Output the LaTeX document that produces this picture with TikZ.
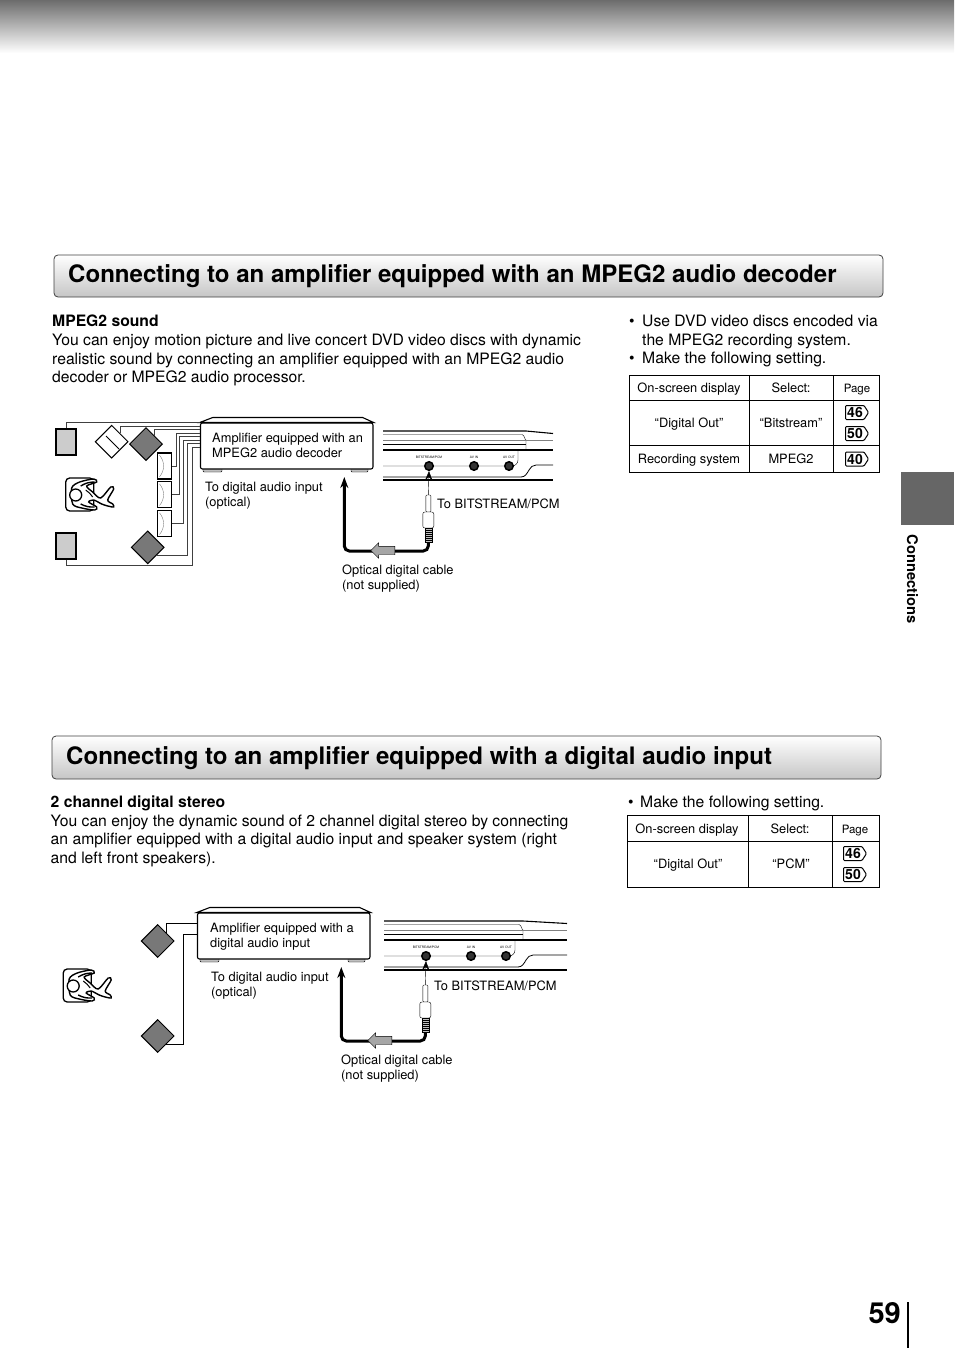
\documentclass[tikz,border=0pt]{standalone}
\usepackage{fontspec}
\setmainfont{TeX Gyre Heros}
\usepackage{tikz}
\usetikzlibrary{arrows.meta,calc,shapes.geometric,shapes.arrows}

\definecolor{wiregray}{gray}{0.25}
\definecolor{spkgray}{gray}{0.47}
\definecolor{tabgray}{gray}{0.40}

% amplifier body with feet and sloped lid
\newcommand{\amplifier}[1]{
	\draw[thin, fill=gray!50, rounded corners=1pt] (203,467) rectangle (222,472);
	\draw[thin, fill=gray!50, rounded corners=1pt] (351,467) rectangle (368,472);
	\node[ampbody] (#1) at (286.7,446) {};
	\draw[line width=1.1pt, fill=white] (#1.north west) -- ++(13,-5) -- ($(#1.north east)+(-11,-5)$) -- (#1.north east) -- cycle;
}
% side panel of the player, from x=#2 to x=#3
\newcommand{\playerpanel}[3]{
	\draw[line width=1.1pt] (#2,431) -- (526,431) -- (#3,433.5);
	\draw (#2,434.5) -- (522,434.5) to[out=0,in=-100] (526,440) -- (526,450);
	\draw[gray] (#2,440) -- (#3,440);
	\draw[line width=0.8pt] (#2,444) -- (526,444);
	\draw[line width=1.1pt] (#2,450) -- (#3,450);
	\draw (#2,466) -- (512,466) to[out=0,in=-90] (518,460) -- (518,450);
	\draw[line width=0.8pt] (#2,477) -- (521,477) to[out=0,in=-120] (529,470) to[out=60,in=180] (536,465) -- (#3,465);
	\draw[line width=1.1pt] (#2,480) -- (#3,480);
	\node[jackhole] (#1a) at (429,466) {};
	\node[jackhole] (#1b) at (474,466) {};
	\node[jackhole] (#1c) at (509,466) {};
	\node[tinylabel] (#1la) at (429,457.5) {BITSTREAM/PCM};
	\node[tinylabel] (#1lb) at (474,457.5) {AV IN};
	\node[tinylabel] (#1lc) at (509,457.5) {AV OUT};
}
% plug, its cable to the amplifier and the direction arrow on it
\newcommand{\opticalcable}[1]{
	\node[plugtip] (#1tip) at (428.3,503.5) {};
	\node[plugbody] (#1body) at (428.3,520) {};
	\node[plugrelief] (#1relief) at (428.3,535) {};
	\foreach \reliefy in {530,532,534,536,538,540}{
		\draw (425,\reliefy) -- (431.6,\reliefy);
	}
	\coordinate (#1end) at (344.3,477);
	\draw[cable, -{Stealth[length=11pt,width=8pt]}] (#1relief.south) -- (428.3,551) -- (344.3,551) -- (#1end);
	\node[flowarrow] (#1flow) at (385,550.5) {};
	\draw[-{Stealth[length=9pt,width=7pt]}] (#1tip.north) -- (#1a.south);
}
% listener seen from above
\newcommand{\listener}[3]{
	\begin{scope}[shift={(#2,#3)}]
		\node[seat] (#1) at (14,16.5) {};
		\draw[line width=1.4pt, fill=white] plot[smooth cycle] coordinates {(6,10) (14,4) (28,1) (31,4) (21,8) (27,14) (35,20) (45,9) (48,11) (42,22) (47,26) (48,29) (42,28) (36,26) (28,22) (23,24) (31,29) (29,32) (16,30) (7,26)};
		\draw[line width=1.4pt] (15,8) to[bend left=15] (29,4);
		\draw[line width=1.4pt] (15,26) to[bend right=15] (29,29);
		\draw[line width=1pt] (20,12) to[bend left=10] (27,19);
		\node[head] (#1head) at (10,17) {};
	\end{scope}
}
% page reference tag
\newcommand{\pagetag}[4]{
	\draw[line width=1pt, rounded corners=1pt] (#2-11.5,#3-7) -- (#2+7,#3-7) -- (#2+11.5,#3) -- (#2+7,#3+7) -- (#2-11.5,#3+7) -- cycle;
	\node[tagtext] (#1) at (#2-2,#3) {#4};
}

\begin{document}
\begin{tikzpicture}[x=1pt, y=-1pt,
	bodytext/.style={anchor=north west, inner sep=0pt, align=left, font=\fontsize{15.7}{18.6}\selectfont},
	smalltext/.style={anchor=north west, inner sep=0pt, align=left, font=\fontsize{12.85}{15}\selectfont},
	celltext/.style={inner sep=0pt, text height=9.2pt, text depth=0.7pt, font=\fontsize{12.85}{15}\selectfont},
	titletext/.style={anchor=west, inner sep=0pt, font=\fontsize{24.05}{30}\bfseries\selectfont},
	titlebox/.style={draw=wiregray, line width=0.8pt, rounded corners=4pt, top color=white, bottom color=gray!45},
	tagtext/.style={inner sep=0pt, font=\fontsize{14}{15}\bfseries\selectfont},
	tinylabel/.style={inner sep=0pt, font=\fontsize{3.2}{4}\selectfont},
	ampbody/.style={draw, line width=1.1pt, fill=white, rounded corners=2pt, minimum width=172.5pt, minimum height=46pt, inner sep=0pt},
	jackhole/.style={circle, draw, line width=1.5pt, fill=gray!40!black, minimum size=8.5pt, inner sep=0pt},
	plugtip/.style={draw, fill=white, rounded corners=1pt, minimum width=5pt, minimum height=17pt, inner sep=0pt},
	plugbody/.style={draw, fill=white, rounded corners=2pt, minimum width=11pt, minimum height=16pt, inner sep=0pt},
	plugrelief/.style={draw, fill=gray!50, minimum width=7pt, minimum height=14pt, inner sep=0pt},
	cable/.style={line width=3pt, rounded corners=5pt},
	flowarrow/.style={single arrow, draw, fill=gray!70, shape border rotate=180, minimum height=24pt, text height=8pt, text width=0pt, single arrow head extend=3.5pt, single arrow head indent=0pt, inner sep=0pt},
	wire/.style={wiregray, line width=0.7pt},
	blackwire/.style={black, line width=0.7pt},
	frontspk/.style={diamond, shape aspect=1, draw, line width=1pt, fill=spkgray, minimum size=33pt, inner sep=0pt},
	boxspk/.style={rectangle, draw, line width=1.3pt, fill=gray!40, minimum width=20pt, minimum height=26pt, inner sep=0pt},
	centerspk/.style={rectangle, draw, line width=1.5pt, fill=white, minimum width=14pt, minimum height=26pt, inner sep=0pt},
	seat/.style={rectangle, draw, line width=1.3pt, rounded corners=4pt, minimum width=28pt, minimum height=33pt, inner sep=0pt},
	head/.style={circle, draw, line width=1.3pt, fill=white, minimum size=12pt, inner sep=0pt}]
	\useasboundingbox (0,0) rectangle (954,1348);

	% page furniture
	\shade[top color=gray!85!black, middle color=gray!75, bottom color=white] (0,0) rectangle (954,53);
	\fill[tabgray] (901,472) rectangle (954,525);
	\node[inner sep=0pt, rotate=-90, font=\fontsize{14.7}{18}\bfseries\selectfont] (tabname) at (912.5,579.5) {Connections};
	\node[anchor=east, inner sep=0pt, font=\fontsize{29}{32}\bfseries\selectfont] (pagenum) at (901,1313) {59};
	\draw[line width=2pt] (908,1302) -- (908,1348);

	% first section
	\draw[titlebox] (54,255) rectangle (883,297);
	\node[titletext] (title1) at (68,276) {Connecting to an amplifier equipped with an MPEG2 audio decoder};
	\node[bodytext] (intro1) at (52,315) {\textbf{MPEG2 sound}\\You can enjoy motion picture and live concert DVD video discs with dynamic\\realistic sound by connecting an amplifier equipped with an MPEG2 audio\\decoder or MPEG2 audio processor.};
	\node[bodytext] (bullet1) at (629,315) {\vphantom{T}•\\ \\•};
	\node[bodytext] (notes1) at (642,315) {Use DVD video discs encoded via\\the MPEG2 recording system.\\Make the following setting.};

	\draw[line width=0.8pt] (629,375) rectangle (879,472);
	\draw[line width=0.8pt] (629,400) -- (879,400) (629,445) -- (879,445) (749,375) -- (749,472) (833,375) -- (833,472);
	\node[celltext] (osd1) at (689,388) {On-screen display};
	\node[celltext] (sel1) at (791,388) {Select:};
	\node[celltext, font=\fontsize{11.5}{14}\selectfont] (page1) at (857,388) {Page};
	\node[celltext] (val1) at (689,423) {“Digital Out”};
	\node[celltext] (val2) at (791,423) {“Bitstream”};
	\node[celltext] (rec1) at (689,459) {Recording system};
	\node[celltext] (rec2) at (791,459) {MPEG2};
	\pagetag{tag46a}{857}{412.5}{46}
	\pagetag{tag50a}{857}{433.5}{50}
	\pagetag{tag40a}{857}{459}{40}

	\amplifier{amp1}
	\playerpanel{jack1}{383}{553}
	\opticalcable{jack1}
	\node[smalltext] (ampname1) at (212,432.5) {Amplifier equipped with an\\MPEG2 audio decoder};
	\node[smalltext] (input1) at (205,481.5) {To digital audio input\\(optical)};
	\node[smalltext] (to1) at (437,499) {To BITSTREAM/PCM};
	\node[smalltext] (opt1) at (342,565) {Optical digital cable\\(not supplied)};

	% speakers around the listener
	\node[boxspk] (rearL) at (66,442) {};
	\node[boxspk] (rearR) at (66,546) {};
	\node[frontspk, fill=white] (frontW) at (111.7,441.7) {};
	\draw[line width=0.8pt] (106,436) -- (119,449);
	\node[frontspk] (frontL) at (146,444) {};
	\node[frontspk] (frontR) at (147.7,547.3) {};
	\node[centerspk] (midA) at (164.3,466) {};
	\node[centerspk] (midB) at (164.3,494.7) {};
	\node[centerspk] (midC) at (164.3,523.7) {};
	\foreach \midname in {midA,midB,midC}{
		\draw[gray] ($(\midname.north west)+(3,3)$) to[bend left=40] ($(\midname.south west)+(3,-3)$);
	}
	\draw[wire] (rearL.north) |- (amp1.west |- 0,422.7);
	\draw[wire] (frontW.north east) |- (amp1.west |- 0,426.7);
	\draw[wire] (frontL.north east) |- (amp1.west |- 0,429.3);
	\draw[wire] (midA.east) -| (176,433.3) -- (amp1.west |- 0,433.3);
	\draw[wire] (midB.east) -| (179.3,436.7) -- (amp1.west |- 0,436.7);
	\draw[wire] (midC.east) -| (183.3,440) -- (amp1.west |- 0,440);
	\draw[wire] (frontR.south east) -| (187.7,443.3) -- (amp1.west |- 0,443.3);
	\draw[wire] (rearR.south) |- (192.3,565.7) -- (192.3,447.7) -- (amp1.west |- 0,447.7);
	\listener{seat1}{65.7}{478}

	% second section
	\draw[titlebox] (52,736) rectangle (881,779);
	\node[titletext] (title2) at (66,758) {Connecting to an amplifier equipped with a digital audio input};
	\node[bodytext] (intro2) at (50.5,795.5) {\textbf{2 channel digital stereo}\\You can enjoy the dynamic sound of 2 channel digital stereo by connecting\\an amplifier equipped with a digital audio input and speaker system (right\\and left front speakers).};
	\node[bodytext] (bullet2) at (628,795.5) {\vphantom{T}•};
	\node[bodytext] (notes2) at (640,795.5) {Make the following setting.};

	\draw[line width=0.8pt] (627,815) rectangle (879,887);
	\draw[line width=0.8pt] (627,841) -- (879,841) (748,815) -- (748,887) (832,815) -- (832,887);
	\node[celltext] (osd2) at (687,829) {On-screen display};
	\node[celltext] (sel2) at (790,829) {Select:};
	\node[celltext, font=\fontsize{11.5}{14}\selectfont] (page2) at (855,829) {Page};
	\node[celltext] (val3) at (688,864) {“Digital Out”};
	\node[celltext] (val4) at (791,864) {“PCM”};
	\pagetag{tag46b}{855}{853.5}{46}
	\pagetag{tag50b}{855}{874.5}{50}

	\begin{scope}[shift={(-3,490)}]
		\amplifier{amp2}
		\playerpanel{jack2}{387}{570}
		\opticalcable{jack2}
	\end{scope}
	\node[smalltext] (ampname2) at (210,923) {Amplifier equipped with a\\digital audio input};
	\node[smalltext] (input2) at (211,971.5) {To digital audio input\\(optical)};
	\node[smalltext] (to2) at (434,980.5) {To BITSTREAM/PCM};
	\node[smalltext] (opt2) at (341,1054.5) {Optical digital cable\\(not supplied)};

	\node[frontspk] (frontL2) at (157.7,941) {};
	\node[frontspk] (frontR2) at (157.7,1036) {};
	\draw[blackwire] (frontL2.north east) |- (amp2.west |- 0,923.3);
	\draw[blackwire] (frontR2.south east) -| (183.3,934) -- (amp2.west |- 0,934);
	\listener{seat2}{63.2}{969}
\end{tikzpicture}
\end{document}
